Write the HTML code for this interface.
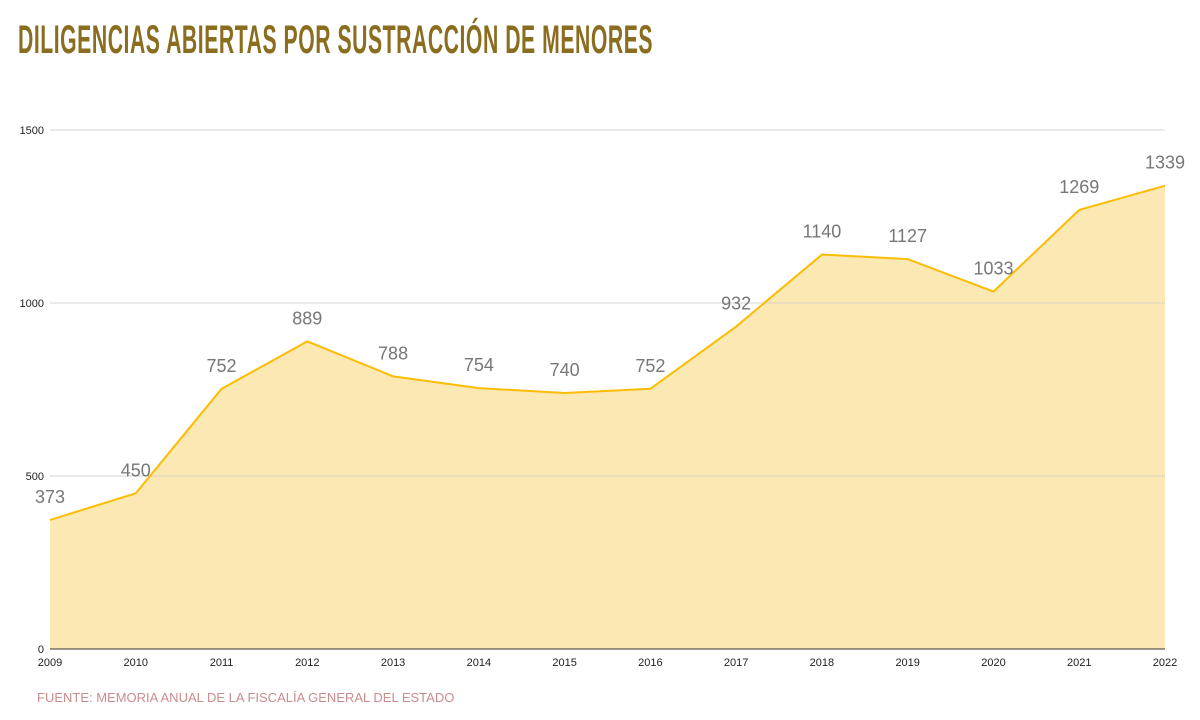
<!DOCTYPE html>
<html><head><meta charset="utf-8"><style>
body{margin:0;background:#fff;width:1200px;height:720px;overflow:hidden;font-family:"Liberation Sans",sans-serif}
#title{position:absolute;left:18px;top:18px;font-weight:bold;font-size:40px;color:#8a6d1e;white-space:nowrap;transform:scaleX(0.53);transform-origin:0 0;letter-spacing:1px}
#src{position:absolute;left:37px;top:690px;font-size:13px;color:#c98c8e}
svg{position:absolute;left:0;top:0}
</style></head><body>
<div id="title">DILIGENCIAS ABIERTAS POR SUSTRACCIÓN DE MENORES</div>
<svg id="c" width="1200" height="720"></svg>
<div id="src">FUENTE: MEMORIA ANUAL DE LA FISCALÍA GENERAL DEL ESTADO</div>
<script>
const years=[2009,2010,2011,2012,2013,2014,2015,2016,2017,2018,2019,2020,2021,2022];
const values=[373,450,752,889,788,754,740,752,932,1140,1127,1033,1269,1339];
const yTicks=[0,500,1000,1500];
const svg=document.getElementById('c');const NS='http://www.w3.org/2000/svg';
const x0=50,x1=1165,yb=649,yt=130,ymax=1500;
const X=i=>x0+(x1-x0)*i/(years.length-1);
const Y=v=>yb-(yb-yt)*v/ymax;
function mk(t,a){const e=document.createElementNS(NS,t);for(const k in a)e.setAttribute(k,a[k]);svg.appendChild(e);return e;}
let d='M'+X(0)+','+Y(0);values.forEach((v,i)=>d+=' L'+X(i)+','+Y(v));
const area=mk('path',{d:d+' L'+X(values.length-1)+','+Y(0)+' Z',fill:'#fce8b2'});


yTicks.forEach(t=>{
 const l=mk('line',{x1:x0,x2:x1,y1:Y(t),y2:Y(t),stroke:t===0?'#333':'#ccc','stroke-width':1,'stroke-opacity':t===0?1:0.8});
 
 
 const tx=mk('text',{x:x0-6,y:Y(t)+4,'text-anchor':'end','font-size':11,fill:'#222'});tx.textContent=t;
 
 
});
const line=mk('path',{d:'M'+values.map((v,i)=>X(i)+','+Y(v)).join(' L'),fill:'none',stroke:'#fbbc04','stroke-width':2});


years.forEach((y,i)=>{
 const t=mk('text',{x:X(i),y:666,'text-anchor':'middle','font-size':11,fill:'#222'});t.textContent=y;
 
 
 const lb=mk('text',{x:X(i),y:Y(values[i])-17,'text-anchor':'middle','font-size':18,fill:'#777'});lb.textContent=values[i];
 
 
});
</script>
</body></html>
